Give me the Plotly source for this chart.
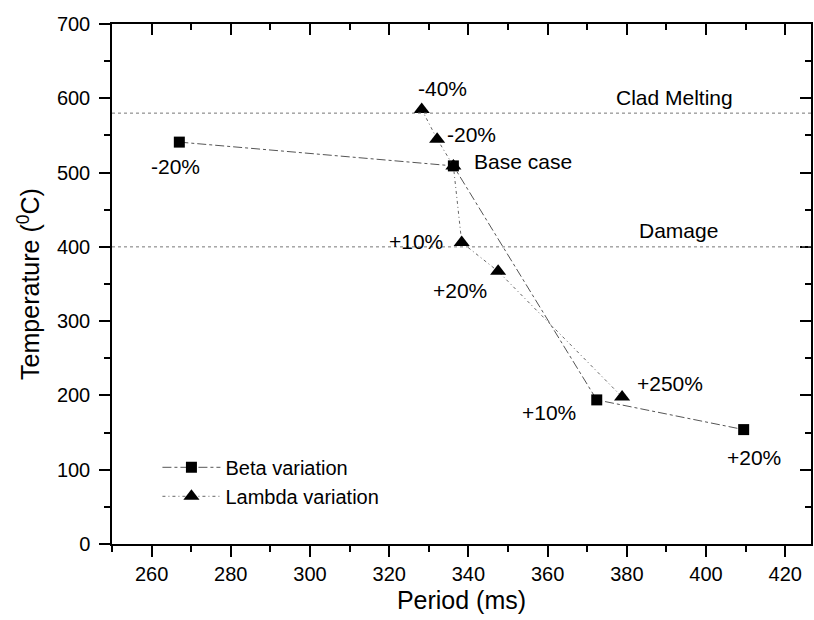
import plotly.graph_objects as go

# ---- data ----
beta_period = [267.0, 336.2, 372.4, 409.5]
beta_temp = [541, 509, 194, 154]
beta_labels = ["-20%", "Base case", "+10%", "+20%"]

lambda_period = [328.2, 332.1, 336.2, 338.3, 347.5, 378.8]
lambda_temp = [585, 545, 509, 406, 367, 198]
lambda_labels = ["-40%", "-20%", "", "+10%", "+20%", "+250%"]

limit_names = ["Clad Melting", "Damage"]
limit_temps = [580, 400]
limit_label_period = [392, 393]

x_ticks = [260, 280, 300, 320, 340, 360, 380, 400, 420]
y_ticks = [0, 100, 200, 300, 400, 500, 600, 700]

# ---- styling (pixel offsets for labels) ----
beta_label_style = [(-4, -24, "center"), (19, 4, "left"), (-48, -13, "center"), (10, -28, "center")]
lambda_label_style = [(21, 21, "center"), (34, 5, "center"), (0, 0, "center"),
                      (-46, 1, "center"), (-38, -19, "center"), (48, 13, "center")]

FONT = "Liberation Sans, Arial, sans-serif"
XR = [250, 426.5]
YR = [0, 700]
LBL = 21

fig = go.Figure()

fig.add_trace(go.Scatter(
    x=beta_period, y=beta_temp, mode="lines+markers", name="Beta variation",
    line=dict(color="#555555", width=1, dash="dashdot"),
    marker=dict(symbol="square", size=11, color="black"),
))
fig.add_trace(go.Scatter(
    x=lambda_period, y=lambda_temp, mode="lines+markers", name="Lambda variation",
    line=dict(color="#666666", width=1, dash="3px,3px,1px,3px"),
    marker=dict(symbol="triangle-up", size=14, color="black"),
))
# carrier for the mirrored top/right frame axes
fig.add_trace(go.Scatter(
    x=beta_period, y=beta_temp, xaxis="x2", yaxis="y2", mode="markers",
    marker=dict(opacity=0), showlegend=False, hoverinfo="skip",
))

for t in limit_temps:
    fig.add_shape(type="line", xref="paper", x0=0, x1=1, yref="y", y0=t, y1=t,
                  line=dict(color="#777777", width=1, dash="dot"))

for name, t, xp in zip(limit_names, limit_temps, limit_label_period):
    fig.add_annotation(x=xp, y=t, text=name, showarrow=False, yshift=16,
                       font=dict(family=FONT, size=LBL, color="black"))

for xv, yv, lab, (dx, dy, anc) in zip(beta_period, beta_temp, beta_labels, beta_label_style):
    if lab:
        fig.add_annotation(x=xv, y=yv, text=lab, showarrow=False, xshift=dx, yshift=dy,
                           xanchor=anc, font=dict(family=FONT, size=LBL, color="black"))
for xv, yv, lab, (dx, dy, anc) in zip(lambda_period, lambda_temp, lambda_labels, lambda_label_style):
    if lab:
        fig.add_annotation(x=xv, y=yv, text=lab, showarrow=False, xshift=dx, yshift=dy,
                           xanchor=anc, font=dict(family=FONT, size=LBL, color="black"))

axis_common = dict(showgrid=False, zeroline=False, showline=True, linecolor="black",
                   linewidth=1.5, tickcolor="black", tickwidth=1.5)

fig.update_layout(
    width=814, height=620,
    margin=dict(l=112, r=3, t=24, b=76),
    paper_bgcolor="white", plot_bgcolor="white",
    font=dict(family=FONT, color="black", size=20),
    showlegend=True,
    legend=dict(x=0.065, y=0.185, xanchor="left", yanchor="top",
                bgcolor="rgba(0,0,0,0)", font=dict(size=20), itemwidth=58,
                tracegroupgap=0),
    xaxis=dict(range=XR, tickvals=x_ticks, ticks="outside", ticklen=11,
               minor=dict(ticks="outside", ticklen=6, dtick=10, tick0=0, tickcolor="black", tickwidth=1.5),
               title=dict(text="Period (ms)", font=dict(size=25), standoff=8),
               tickfont=dict(size=20), **axis_common),
    yaxis=dict(range=YR, tickvals=y_ticks, ticks="outside", ticklen=11,
               minor=dict(ticks="outside", ticklen=6, dtick=50, tick0=0, tickcolor="black", tickwidth=1.5),
               title=dict(text="Temperature (<sup>0</sup>C)", font=dict(size=25), standoff=10),
               ticklabelstandoff=5,
               tickfont=dict(size=20), **axis_common),
    xaxis2=dict(range=XR, overlaying="x", side="top", anchor="y", tickvals=x_ticks,
                ticks="inside", ticklen=11, showticklabels=False,
                minor=dict(ticks="inside", ticklen=6, dtick=10, tick0=0, tickcolor="black", tickwidth=1.5),
                **axis_common),
    yaxis2=dict(range=YR, overlaying="y", side="right", anchor="x", tickvals=y_ticks,
                ticks="inside", ticklen=11, showticklabels=False,
                minor=dict(ticks="inside", ticklen=6, dtick=50, tick0=0, tickcolor="black", tickwidth=1.5),
                **axis_common),
)

fig.write_html("out.html")
